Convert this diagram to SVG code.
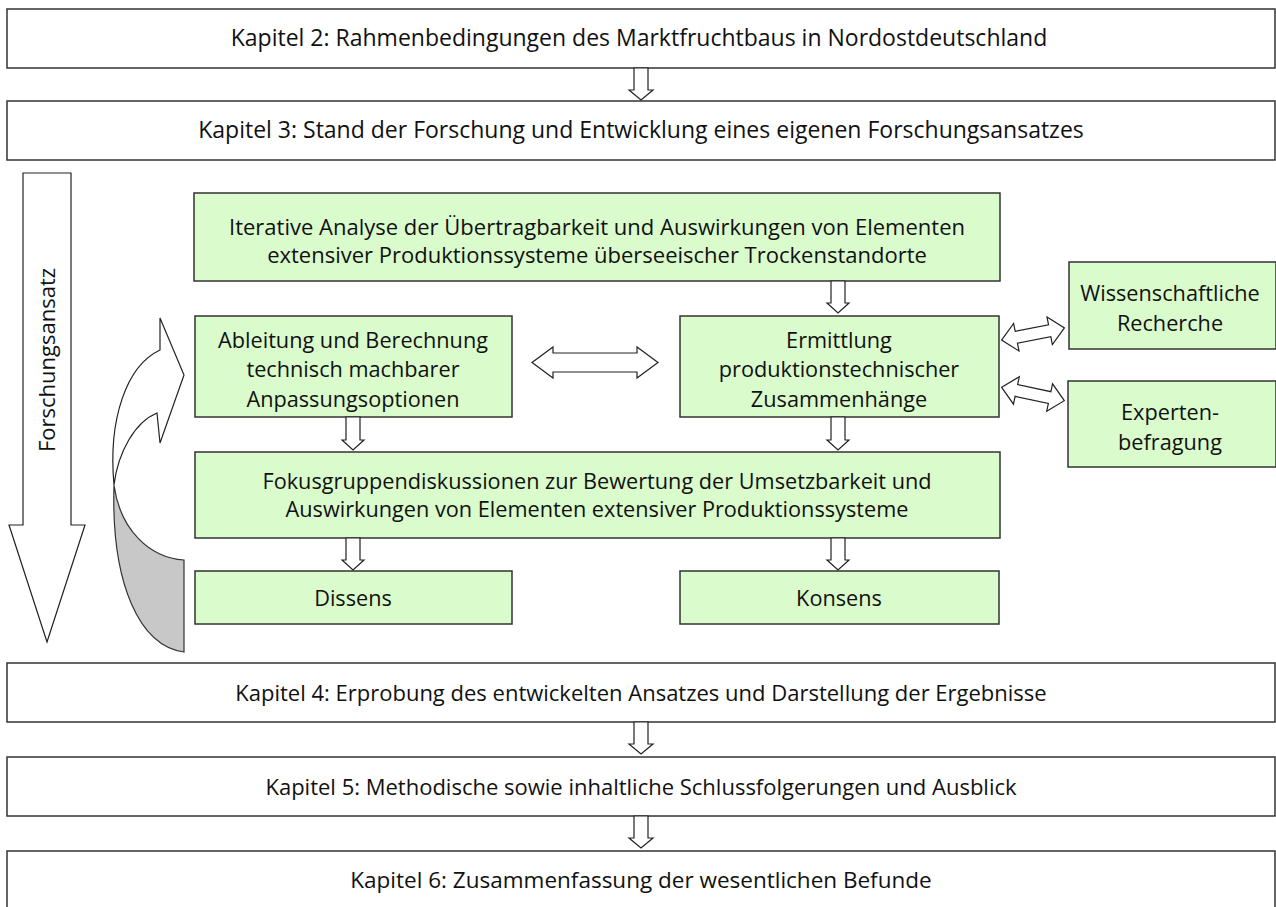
<svg xmlns="http://www.w3.org/2000/svg" width="1276" height="907" viewBox="0 0 1276 907">
<defs>
<style>
.ch{fill:#ffffff;stroke:#333333;stroke-width:1.5}
.gr{fill:#dafbcb;stroke:#333333;stroke-width:1.5}
.ar{fill:#ffffff;stroke:#222222;stroke-width:1.2;stroke-linejoin:miter}
.t{font-family:"Open Sans",Lato,"Liberation Sans",sans-serif;font-size:22px;fill:#111111;text-anchor:middle}
.tl{font-size:23px}
.ts{font-size:21.7px}
</style>
<path id="dn" d="M-7,0 L7,0 L7,22 L12,22 L0,32 L-12,22 L-7,22 Z"/>
</defs>
<rect width="1276" height="907" fill="#ffffff"/>

<g id="k2"><rect class="ch" x="7" y="9" width="1268" height="59"/><text class="t tl" x="639" y="46">Kapitel 2: Rahmenbedingungen des Marktfruchtbaus in Nordostdeutschland</text></g>
<g id="k3"><rect class="ch" x="7" y="101" width="1268" height="59"/><text class="t tl" x="641" y="138">Kapitel 3: Stand der Forschung und Entwicklung eines eigenen Forschungsansatzes</text></g>

<g id="forschungsansatz">
<path class="ar" d="M23,173 L71,173 L71,525 L85,525 L47,642 L9,525 L23,525 Z"/>
<text class="t" transform="translate(55,360) rotate(-90)">Forschungsansatz</text>
</g>

<g id="loop">
<path d="M184,652 C140,646 111,585 114,485 C120,530 150,558 184,560 Z" fill="#c8c8c8" stroke="#333333" stroke-width="1.2"/>
<path class="ar" d="M114,485 C108,420 126,366 160,350 L160,318 L184,375 L160,443 L157,413 C135,422 118,452 114,485 Z"/>
</g>

<g id="iterative"><rect class="gr" x="194" y="193" width="806" height="88"/>
<text class="t" x="597" y="235">Iterative Analyse der Übertragbarkeit und Auswirkungen von Elementen</text>
<text class="t" x="597" y="263">extensiver Produktionssysteme überseeischer Trockenstandorte</text></g>

<g id="ableitung"><rect class="gr" x="195" y="316" width="317" height="101"/>
<text class="t ts" x="353" y="348">Ableitung und Berechnung</text>
<text class="t ts" x="353" y="377">technisch machbarer</text>
<text class="t ts" x="353" y="407">Anpassungsoptionen</text></g>

<g id="ermittlung"><rect class="gr" x="680" y="316" width="319" height="101"/>
<text class="t ts" x="839" y="348">Ermittlung</text>
<text class="t ts" x="839" y="377">produktionstechnischer</text>
<text class="t ts" x="839" y="407">Zusammenhänge</text></g>

<g id="wissenschaft"><rect class="gr" x="1069" y="262" width="207" height="87"/>
<text class="t ts" x="1170" y="301">Wissenschaftliche</text>
<text class="t ts" x="1170" y="331">Recherche</text></g>

<g id="experten"><rect class="gr" x="1068" y="381" width="208" height="86"/>
<text class="t ts" x="1170" y="420">Experten-</text>
<text class="t ts" x="1170" y="450">befragung</text></g>

<g id="fokus"><rect class="gr" x="195" y="452" width="805" height="86"/>
<text class="t ts" x="597" y="489">Fokusgruppendiskussionen zur Bewertung der Umsetzbarkeit und</text>
<text class="t ts" x="597" y="517">Auswirkungen von Elementen extensiver Produktionssysteme</text></g>

<g id="dissens"><rect class="gr" x="195" y="571" width="317" height="53"/>
<text class="t ts" x="353" y="606">Dissens</text></g>
<g id="konsens"><rect class="gr" x="680" y="571" width="319" height="53"/>
<text class="t ts" x="839" y="606">Konsens</text></g>

<g id="k4"><rect class="ch" x="7" y="663" width="1268" height="59"/><text class="t" x="641" y="701">Kapitel 4: Erprobung des entwickelten Ansatzes und Darstellung der Ergebnisse</text></g>
<g id="k5"><rect class="ch" x="7" y="757" width="1268" height="59"/><text class="t" x="641" y="795">Kapitel 5: Methodische sowie inhaltliche Schlussfolgerungen und Ausblick</text></g>
<g id="k6"><rect class="ch" x="7" y="851" width="1268" height="58"/><text class="t" x="641" y="888" style="font-size:22.5px">Kapitel 6: Zusammenfassung der wesentlichen Befunde</text></g>

<g id="connectors">
<use href="#dn" class="ar" transform="translate(641,68)"/>
<use href="#dn" class="ar" transform="translate(641,722)"/>
<use href="#dn" class="ar" transform="translate(641,816)"/>
<path class="ar" d="M831,281 L845,281 L845,303 L849,303 L838,313 L827,303 L831,303 Z"/>
<path class="ar" d="M346,417 L360,417 L360,440 L364,440 L353,450 L342,440 L346,440 Z"/>
<path class="ar" d="M831,417 L845,417 L845,440 L849,440 L838,450 L827,440 L831,440 Z"/>
<path class="ar" d="M346,538 L360,538 L360,560 L364,560 L353,570 L342,560 L346,560 Z"/>
<path class="ar" d="M831,538 L845,538 L845,560 L849,560 L838,570 L827,560 L831,560 Z"/>
<path class="ar" d="M532,362.5 L553,347 L553,353 L637,353 L637,347 L658,362.5 L637,378 L637,372 L553,372 L553,378 Z"/>
<path class="ar" transform="translate(1033,334) rotate(-11)" d="M-32,0 L-17,-14 L-17,-6 L17,-6 L17,-14 L32,0 L17,14 L17,6 L-17,6 L-17,14 Z"/>
<path class="ar" transform="translate(1033,394) rotate(12)" d="M-32,0 L-17,-14 L-17,-6 L17,-6 L17,-14 L32,0 L17,14 L17,6 L-17,6 L-17,14 Z"/>
</g>
</svg>
